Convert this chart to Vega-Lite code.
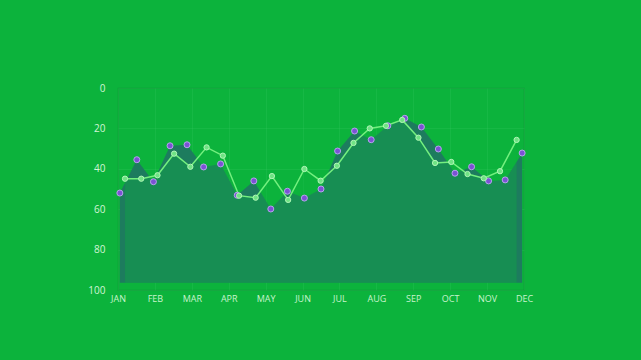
{
  "$schema": "https://vega.github.io/schema/vega-lite/v6.json",
  "autosize": "none",
  "width": 406,
  "height": 202,
  "padding": {"left": 118, "top": 88, "right": 117, "bottom": 70},
  "background": "#0cb33c",
  "config": {
    "view": {"stroke": "#0a9f36", "strokeWidth": 1.2},
    "font": "Open Sans"
  },
  "data": {
    "values": [
      {"s": "a", "m": 0.05, "v": 52.0},
      {"s": "a", "m": 0.51, "v": 35.5},
      {"s": "a", "m": 0.96, "v": 46.4},
      {"s": "a", "m": 1.41, "v": 28.6},
      {"s": "a", "m": 1.87, "v": 28.1},
      {"s": "a", "m": 2.32, "v": 39.1},
      {"s": "a", "m": 2.78, "v": 37.6},
      {"s": "a", "m": 3.23, "v": 53.1},
      {"s": "a", "m": 3.68, "v": 46.0},
      {"s": "a", "m": 4.14, "v": 59.9},
      {"s": "a", "m": 4.59, "v": 51.1},
      {"s": "a", "m": 5.05, "v": 54.5},
      {"s": "a", "m": 5.50, "v": 50.0},
      {"s": "a", "m": 5.95, "v": 31.2},
      {"s": "a", "m": 6.41, "v": 21.3},
      {"s": "a", "m": 6.86, "v": 25.6},
      {"s": "a", "m": 7.31, "v": 18.7},
      {"s": "a", "m": 7.77, "v": 15.0},
      {"s": "a", "m": 8.22, "v": 19.3},
      {"s": "a", "m": 8.68, "v": 30.2},
      {"s": "a", "m": 9.13, "v": 42.2},
      {"s": "a", "m": 9.58, "v": 39.0},
      {"s": "a", "m": 10.04, "v": 46.0},
      {"s": "a", "m": 10.49, "v": 45.5},
      {"s": "a", "m": 10.95, "v": 32.2},
      {"s": "b", "m": 0.19, "v": 44.9},
      {"s": "b", "m": 0.63, "v": 44.9},
      {"s": "b", "m": 1.07, "v": 43.2},
      {"s": "b", "m": 1.52, "v": 32.5},
      {"s": "b", "m": 1.96, "v": 39.0},
      {"s": "b", "m": 2.40, "v": 29.4},
      {"s": "b", "m": 2.84, "v": 33.5},
      {"s": "b", "m": 3.28, "v": 53.3},
      {"s": "b", "m": 3.73, "v": 54.3},
      {"s": "b", "m": 4.17, "v": 43.6},
      {"s": "b", "m": 4.61, "v": 55.4},
      {"s": "b", "m": 5.05, "v": 40.1},
      {"s": "b", "m": 5.49, "v": 45.9},
      {"s": "b", "m": 5.93, "v": 38.5},
      {"s": "b", "m": 6.38, "v": 27.2},
      {"s": "b", "m": 6.82, "v": 20.0},
      {"s": "b", "m": 7.26, "v": 18.7},
      {"s": "b", "m": 7.70, "v": 15.8},
      {"s": "b", "m": 8.14, "v": 24.6},
      {"s": "b", "m": 8.59, "v": 37.1},
      {"s": "b", "m": 9.03, "v": 36.6},
      {"s": "b", "m": 9.47, "v": 42.6},
      {"s": "b", "m": 9.91, "v": 44.7},
      {"s": "b", "m": 10.35, "v": 41.2},
      {"s": "b", "m": 10.80, "v": 25.7}
    ]
  },
  "encoding": {
    "x": {
      "field": "m", "type": "quantitative",
      "scale": {"domain": [0, 11], "nice": false, "zero": false},
      "axis": {
        "title": null,
        "values": [0, 1, 2, 3, 4, 5, 6, 7, 8, 9, 10, 11],
        "labelExpr": "['JAN','FEB','MAR','APR','MAY','JUN','JUL','AUG','SEP','OCT','NOV','DEC'][datum.value]",
        "domain": false, "ticks": false,
        "labelFlush": false, "labelOverlap": false, "labelBound": false,
        "grid": true, "gridColor": "#3fcf6a", "gridOpacity": 0.2,
        "labelColor": "#c8f3cc", "labelFontSize": 9, "labelPadding": 4,
        "labelFont": "Open Sans"
      }
    },
    "y": {
      "field": "v", "type": "quantitative",
      "scale": {"domain": [0, 100], "reverse": true, "nice": false},
      "axis": {
        "title": null,
        "values": [0, 20, 40, 60, 80, 100],
        "domain": false, "ticks": false,
        "labelFlush": false, "labelOverlap": false, "labelBound": false,
        "grid": true, "gridColor": "#3fcf6a", "gridOpacity": 0.2,
        "labelColor": "#d2f5d6", "labelFontSize": 10, "labelPadding": 13,
        "labelFont": "Open Sans"
      }
    }
  },
  "layer": [
    {
      "transform": [{"filter": "datum.s == 'a'"}],
      "mark": {"type": "area", "color": "#1d7c5e", "opacity": 1},
      "encoding": {"y2": {"datum": 96.4}}
    },
    {
      "transform": [{"filter": "datum.s == 'b'"}],
      "mark": {"type": "area", "color": "#0cb33c", "opacity": 0.33},
      "encoding": {"y2": {"datum": 96.4}}
    },
    {
      "transform": [{"filter": "datum.s == 'b'"}],
      "mark": {"type": "line", "color": "#74f07f", "strokeWidth": 1.5}
    },
    {
      "transform": [{"filter": "datum.s == 'a'"}],
      "mark": {"type": "point", "filled": true, "fill": "#7b52d4", "stroke": "#b7a4ee", "strokeWidth": 1, "size": 36, "opacity": 1}
    },
    {
      "transform": [{"filter": "datum.s == 'b'"}],
      "mark": {"type": "point", "filled": true, "fill": "#6fe384", "stroke": "#b2f7b8", "strokeWidth": 1, "size": 28, "opacity": 1}
    }
  ]
}
